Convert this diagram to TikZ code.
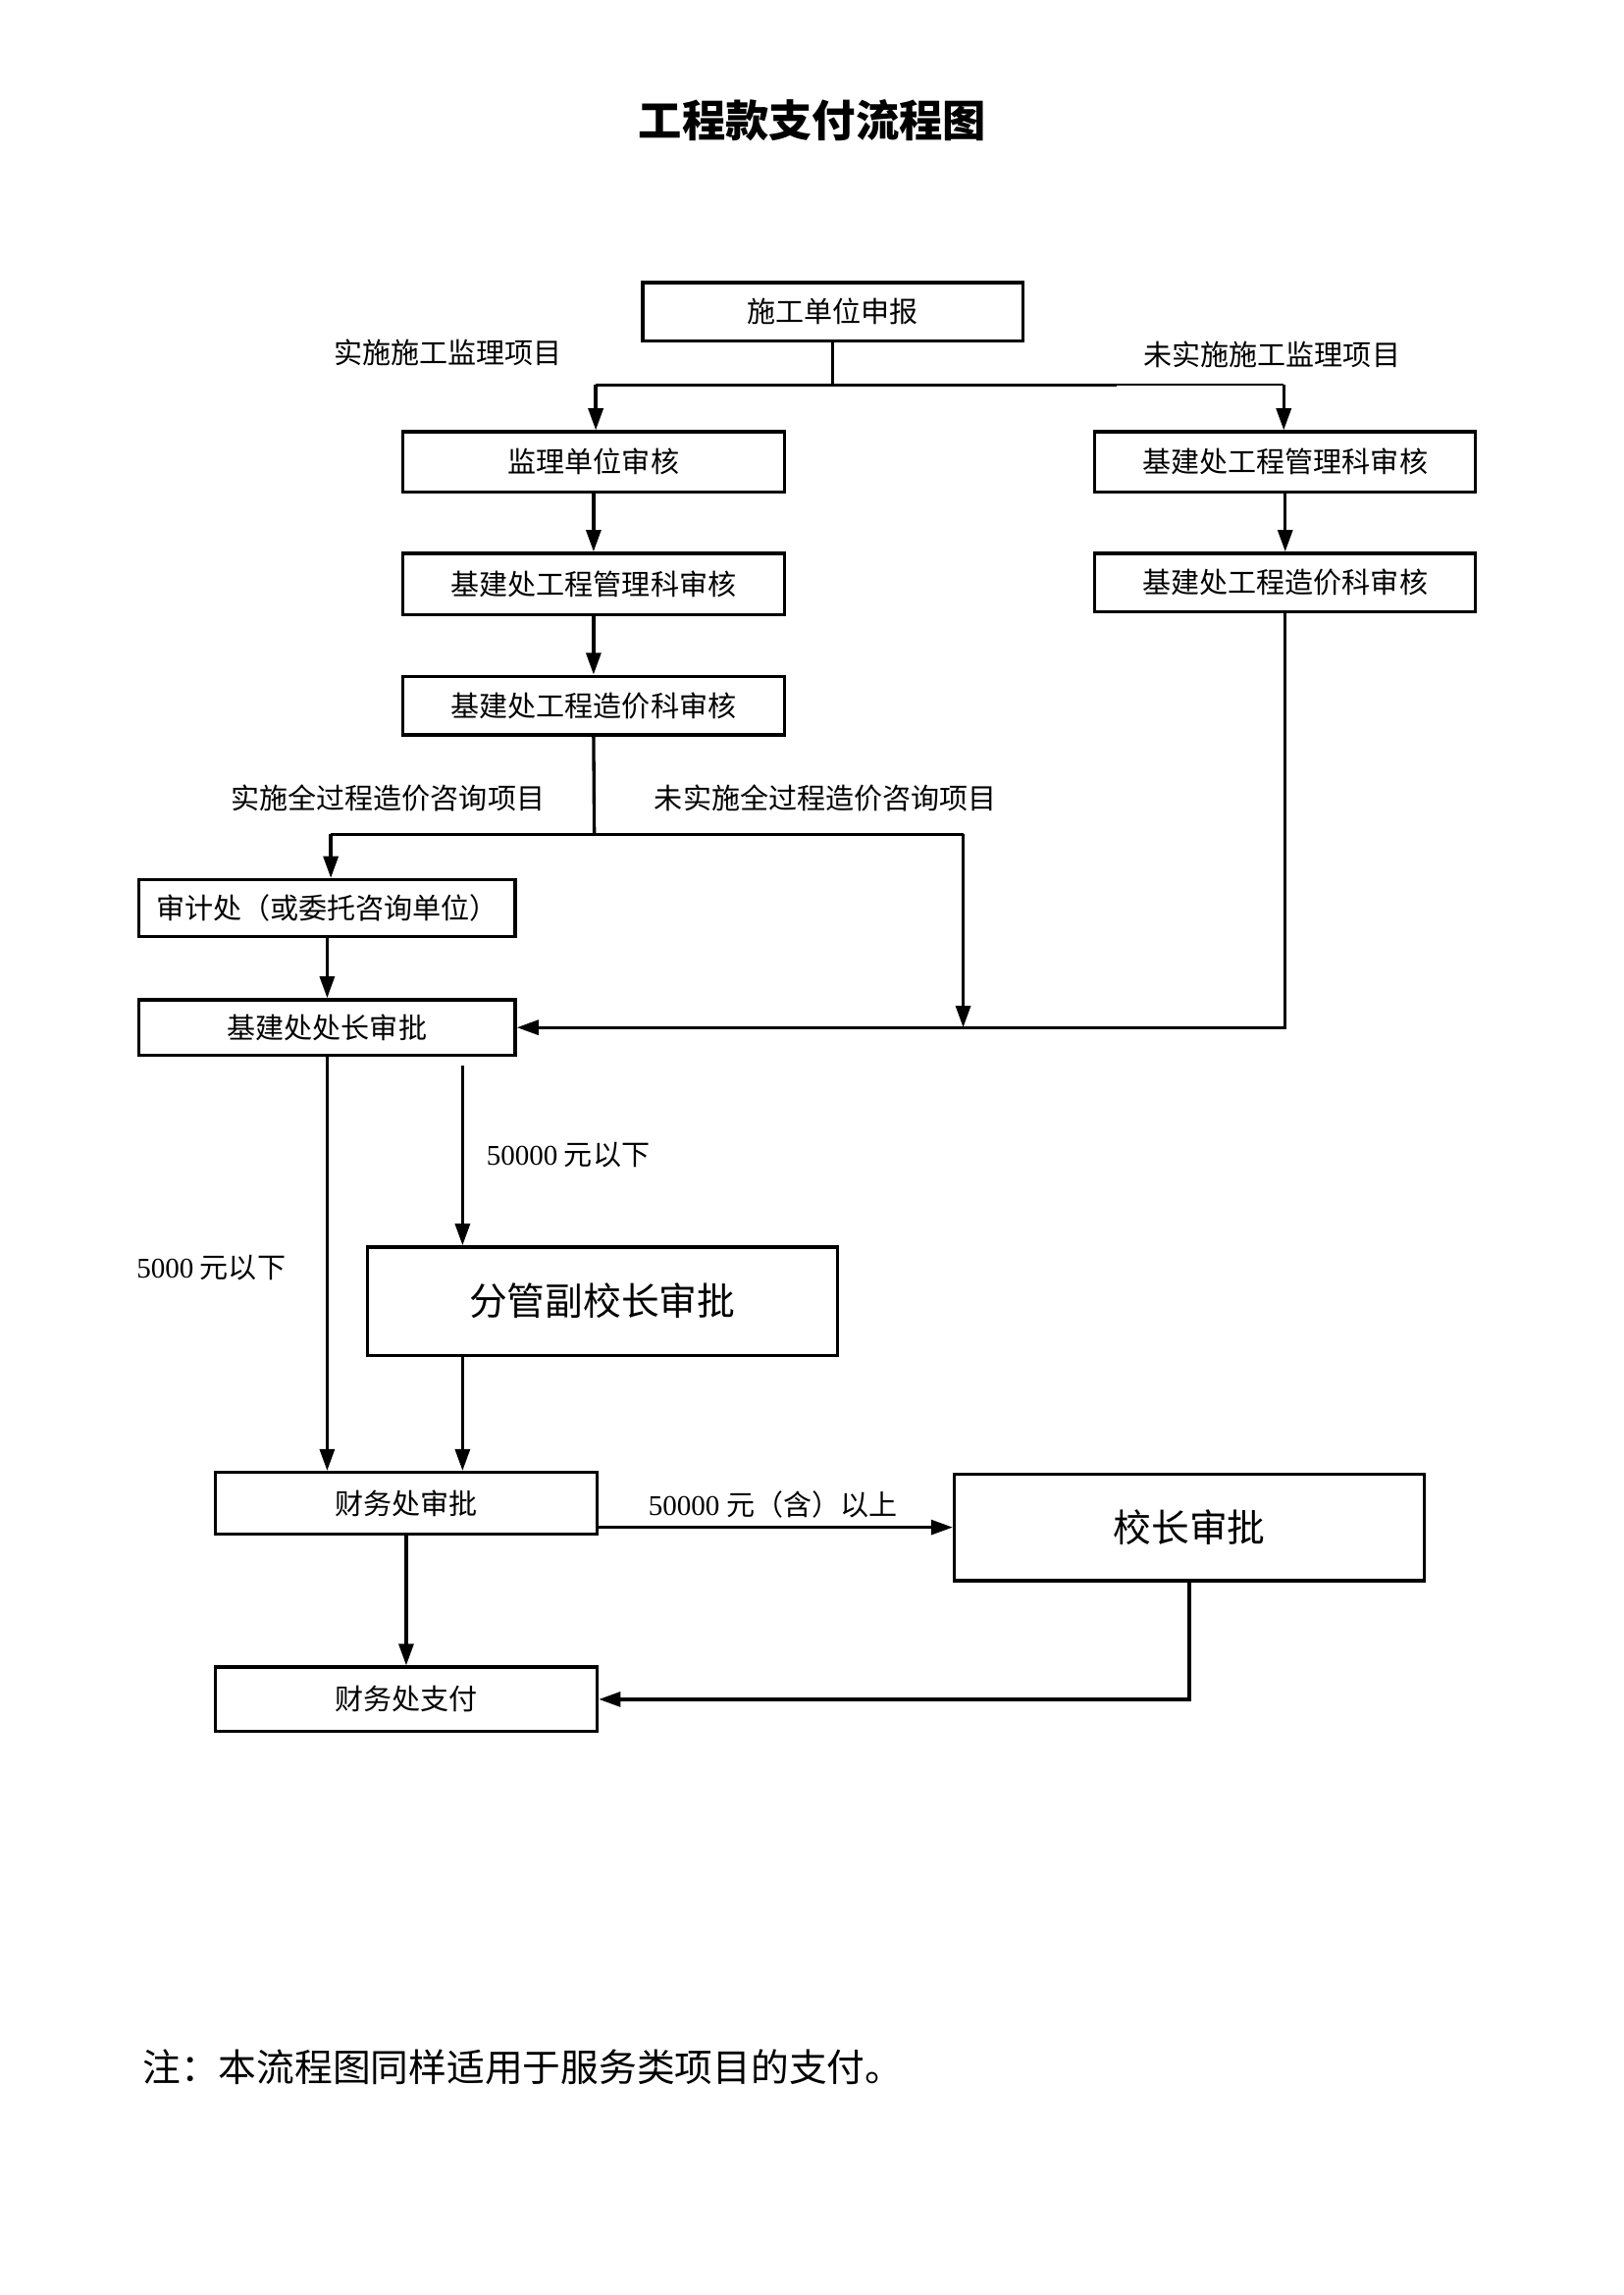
\documentclass[tikz,border=0pt]{standalone}
\usepackage{fontspec}
\setmainfont{Liberation Serif}
\newfontfamily\cjk{Noto Sans CJK SC}
\usetikzlibrary{arrows.meta}
\begin{document}
\begin{tikzpicture}[x=0.18941mm,y=-0.18941mm,
  box/.style={draw, line width=1.2pt, inner sep=0pt, font=\cjk\fontsize{10.5pt}{12pt}\selectfont},
  big/.style={font=\cjk\fontsize{14pt}{16pt}\selectfont},
  lbl/.style={inner sep=0pt, font=\cjk\fontsize{10.5pt}{12pt}\selectfont},
  arr/.style={line width=1.2pt, -{Triangle[length=8pt,width=5.4pt]}},
  ln/.style={line width=1.2pt},
  thin/.style={line width=0.6pt},
  wh/.style 2 args={minimum width=#1*0.18941mm, minimum height=#2*0.18941mm}]
\useasboundingbox (0,0) rectangle (1109,1568);

% title
\node (t) at (555,82) {\cjk\bfseries\fontsize{16pt}{19pt}\selectfont 工程款支付流程图};

% boxes
\node[box,wh={260}{40}] (s0) at (569,213) {施工单位申报};
\node[box,wh={261}{41}] (a1) at (405.5,315.5) {监理单位审核};
\node[box,wh={260}{41}] (b1) at (878,315.5) {基建处工程管理科审核};
\node[box,wh={261}{42}] (a2) at (405.5,399) {基建处工程管理科审核};
\node[box,wh={260}{40}] (b2) at (878,398) {基建处工程造价科审核};
\node[box,wh={261}{40}] (a3) at (405.5,482) {基建处工程造价科审核};
\node[box,wh={257}{39}] (sj) at (223.5,620.5) {审计处（或委托咨询单位）};
\node[box,wh={257}{38}] (cz) at (223.5,702) {基建处处长审批};
\node[box,big,wh={321}{74}] (fg) at (411.5,889) {分管副校长审批};
\node[box,wh={261}{42}] (cw) at (277.5,1027) {财务处审批};
\node[box,big,wh={321}{73}] (xz) at (812.5,1043.5) {校长审批};
\node[box,wh={261}{44}] (zf) at (277.5,1161) {财务处支付};

% labels
\node[lbl] (l1) at (306,241) {实施施工监理项目};
\node[lbl] (l2) at (869,242) {未实施施工监理项目};
\node[lbl] (l3) at (265,545) {实施全过程造价咨询项目};
\node[lbl] (l4) at (564,545) {未实施全过程造价咨询项目};
\node[lbl,anchor=west] (l5) at (332,789) {{\rmfamily 50000} 元以下};
\node[lbl,anchor=west] (l6) at (93,866) {{\rmfamily 5000} 元以下};
\node[lbl] (l7) at (528,1028) {{\rmfamily 50000} 元（含）以上};

% note
\node[anchor=west,inner sep=0pt] (n) at (97,1412) {\cjk\fontsize{14pt}{17pt}\selectfont 注：本流程图同样适用于服务类项目的支付。};

% junctions
\coordinate (j0) at (569,263);
\coordinate (jl) at (407,263);
\coordinate (jm) at (763,263);
\coordinate (jr) at (877,263);
\coordinate (j1) at (406,570);
\coordinate (j1l) at (226,570);
\coordinate (j1r) at (658,570);
\coordinate (g1) at (316,728);

% connectors
\draw[ln] (s0.south) -- (j0);
\draw[ln] (jl) -- (jm);
\draw[thin] (jm) -- (jr);
\draw[arr] (jl) -- (jl |- a1.north);
\draw[arr] (jr) -- (jr |- b1.north);
\draw[arr] (a1.south) -- (a2.north);
\draw[arr] (b1.south) -- (b2.north);
\draw[arr] (a2.south) -- (a3.north);
\draw[ln] (a3.south) -- (j1);
\draw[ln] (j1l) -- (j1r);
\draw[arr] (j1l) -- (j1l |- sj.north);
\draw[arr] (j1r) -- (j1r |- cz.east);
\draw[arr] (sj.south) -- (cz.north);
\draw[arr] (b2.south) |- (cz.east);
\draw[arr] (cz.south) -- (cz.south |- cw.north);
\draw[arr] (g1) -- (g1 |- fg.north);
\draw[arr] (fg.south -| g1) -- (g1 |- cw.north);
\draw[arr] (xz.west -| cw.east) -- (xz.west);
\draw[arr] (cw.south) -- (zf.north);
\draw[arr] (xz.south) |- (zf.east);
\end{tikzpicture}
\end{document}
